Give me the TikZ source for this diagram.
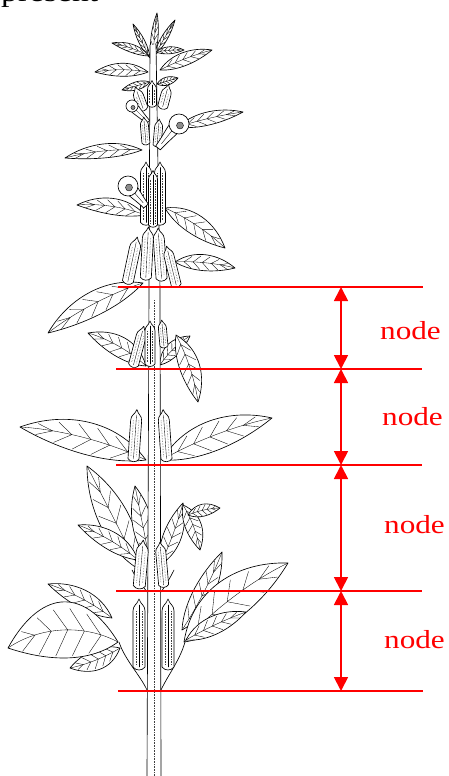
\documentclass[tikz,border=0pt]{standalone}
\usepackage{graphicx}
\usepackage{fontspec}
\setmainfont{Liberation Serif}
\usetikzlibrary{arrows.meta,calc}
\definecolor{annot}{RGB}{255,0,0}
\tikzset{
  plantline/.style={draw=black,line width=0.65pt,line join=round,line cap=round},
  vein/.style={draw=black,line width=0.35pt,line cap=round},
  stip/.style={draw=black!75,line width=0.8pt,dash pattern=on 0.3pt off 1.3pt},
  redline/.style={draw=annot,line width=1.6pt},
  redarrow/.style={draw=annot,line width=1.8pt,{Triangle[length=14pt,width=14pt]}-{Triangle[length=14pt,width=14pt]}},
  lbl/.style={text=annot,font=\fontsize{26}{30}\selectfont,anchor=base,inner sep=0pt},
}
% leaf: base x, base y, tip x, tip y, width, bend
\newcommand\leaf[6]{%
  \pgfmathsetmacro\lfA{atan2(-(#4-#2),#3-#1)}%
  \pgfmathsetmacro\lfL{veclen(#3-#1,#4-#2)}%
  \pgfmathsetmacro\lfH{#5/1.35}%
  \pgfmathsetmacro\lfB{#6}%
  \begin{scope}[shift={(#1,#2)},rotate=\lfA,x=1pt,y=1pt]
    \draw[plantline,fill=white] (0,0) .. controls (0.3*\lfL,\lfH+\lfB) and (0.7*\lfL,0.8*\lfH+\lfB) .. (\lfL,0)
      .. controls (0.7*\lfL,-0.8*\lfH+\lfB) and (0.3*\lfL,-\lfH+\lfB) .. cycle;
    \draw[vein] (0,0) .. controls (0.3*\lfL,\lfB) and (0.7*\lfL,\lfB) .. (\lfL,0);
    \foreach \t in {0.15,0.3,0.45,0.6,0.75}{
      \pgfmathsetmacro\ym{3*\t*(1-\t)*\lfB}
      \pgfmathsetmacro\tq{\t+0.12}
      \pgfmathsetmacro\yt{0.85*(3*\tq*(1-\tq)^2*(\lfH+\lfB)+3*\tq^2*(1-\tq)*(0.8*\lfH+\lfB))}
      \pgfmathsetmacro\yb{0.85*(3*\tq*(1-\tq)^2*(-\lfH+\lfB)+3*\tq^2*(1-\tq)*(-0.8*\lfH+\lfB))}
      \draw[vein] (\t*\lfL,\ym) -- (\tq*\lfL,\yt);
      \draw[vein] (\t*\lfL,\ym) -- (\tq*\lfL,\yb);
    }
  \end{scope}}
% tube (flower corolla): base x, base y, tip x, tip y, width
\newcommand\tube[5]{%
  \pgfmathsetmacro\lfA{atan2(-(#4-#2),#3-#1)}%
  \pgfmathsetmacro\lfL{veclen(#3-#1,#4-#2)}%
  \begin{scope}[shift={(#1,#2)},rotate=\lfA,x=1pt,y=1pt]
    \draw[plantline,fill=white] (0,-#5/4) -- (0,#5/4) .. controls (0.5*\lfL,#5/3) and (0.8*\lfL,#5/2) .. (\lfL,#5/2)
      -- (\lfL,-#5/2) .. controls (0.8*\lfL,-#5/2) and (0.5*\lfL,-#5/3) .. cycle;
    \draw[vein] (0.2*\lfL,0) -- (0.9*\lfL,0);
  \end{scope}}
% capsule: centre x, centre y, angle, length, width
\newcommand\capsule[5]{%
  \begin{scope}[shift={(#1,#2)},rotate=#3]
    \draw[plantline,fill=white] (-#5/2,#4/2) -- (-#5/2,-#4/2+#5/2) .. controls (-#5/2,-#4/2) and (-#5/6,-#4/2) .. (0,-#4/2-#5/2)
      .. controls (#5/6,-#4/2) and (#5/2,-#4/2) .. (#5/2,-#4/2+#5/2) -- (#5/2,#4/2)
      .. controls (#5/4,#4/2+#5/3) and (-#5/4,#4/2+#5/3) .. cycle;
    \draw[stip] (-#5/4,-#4/2+#5/2) -- (-#5/4,#4/2-#5/4);
    \draw[stip] (#5/4,-#4/2+#5/2) -- (#5/4,#4/2-#5/4);
    \draw[vein] (0,-#4/2) -- (0,#4/2);
  \end{scope}}
% flower face: x, y, radius
\newcommand\face[3]{%
  \draw[plantline,fill=white] (#1,#2) circle (#3);
  \draw[vein,fill=black!45] ($(#1,#2)+(1,1.5)$) circle ({#3*0.35});}
\begin{document}
\begin{tikzpicture}[x=1pt,y=-1pt]
\useasboundingbox (0,0) rectangle (449,776);
% cut-off text at the top edge (only its lowest part shows, as in the reference)
\node[anchor=base west,inner sep=0pt,font=\fontsize{28}{30}\selectfont] (toptext) at (1,1.5) {\scalebox{1.2}[1]{present}};

% ---------- leaves (behind) ----------
% top cluster
\leaf{152}{62}{157}{13}{7}{0}
\leaf{154}{56}{175}{20}{6}{0}
\leaf{150}{58}{133}{24}{6}{0}
\leaf{149}{56}{112}{43}{8}{-2}
\leaf{156}{52}{184}{50}{7}{1}
\leaf{148}{72}{95}{72}{13}{-3}
\leaf{160}{70}{212}{50}{13}{2}
\leaf{150}{82}{122}{90}{8}{0}
\leaf{157}{84}{178}{78}{8}{0}
% upper flowers zone
\leaf{178}{127}{243}{112}{13}{2}
\leaf{142}{150}{65}{158}{14}{-4}
\leaf{145}{215}{77}{205}{16}{-5}
\leaf{165}{208}{225}{248}{20}{4}
\leaf{175}{262}{235}{268}{16}{3}
\leaf{143}{283}{48}{333}{24}{-6}
% node 369
\leaf{146}{366}{88}{333}{20}{-5}
\leaf{160}{365}{190}{336}{14}{3}
\leaf{176}{335}{198}{402}{20}{4}
% node 465
\leaf{146}{460}{20}{427}{32}{-8}
\leaf{162}{460}{272}{418}{30}{6}
% node 591
\leaf{140}{570}{87}{466}{30}{0}
\leaf{138}{560}{78}{525}{18}{-4}
\leaf{150}{562}{135}{486}{20}{0}
\leaf{160}{565}{183}{503}{18}{-2}
\leaf{183}{505}{200}{550}{16}{3}
\leaf{188}{515}{220}{508}{12}{2}
% node 691
\leaf{112}{618}{48}{584}{18}{-4}
\leaf{120}{648}{70}{668}{20}{3}
\leaf{118}{642}{8}{648}{56}{-20}
\leaf{182}{630}{222}{552}{20}{-3}
\leaf{184}{642}{288}{563}{40}{8}
\leaf{186}{640}{246}{612}{18}{2}

% ---------- stem ----------
\fill[white] (150,45) -- (149,290) -- (147,777) -- (161,777) -- (160,290) -- (156,45) -- cycle;
\draw[plantline] (150,45) -- (149,290) -- (147,777);
\draw[plantline] (156,45) -- (160,290) -- (161,777);
\draw[stip] (154,300) -- (154,776);
% sheaths at the nodes
\draw[plantline] (147,690) .. controls (140,675) and (125,660) .. (119,642);
\draw[plantline] (161,690) .. controls (168,675) and (180,660) .. (185,642);
\draw[plantline] (147,592) .. controls (142,585) and (136,578) .. (132,570);
\draw[plantline] (161,592) .. controls (166,585) and (170,578) .. (174,570);

% ---------- buds, capsules, flowers ----------
\capsule{140}{100}{20}{18}{10}
\capsule{165}{98}{-15}{18}{10}
\capsule{152}{95}{0}{20}{9}
\tube{148}{122}{134}{108}{9}
\face{132}{106}{6}
\capsule{145}{132}{5}{22}{8}
\capsule{158}{134}{-5}{22}{8}
\tube{158}{148}{175}{127}{12}
\face{179}{124}{10}
\capsule{146}{195}{0}{55}{11}
\capsule{160}{195}{0}{55}{11}
\capsule{153}{200}{0}{50}{9}
\tube{146}{206}{132}{190}{12}
\face{128}{186}{10}
\capsule{132}{262}{-12}{40}{11}
\capsule{147}{255}{-3}{45}{11}
\capsule{160}{256}{4}{45}{11}
\capsule{172}{268}{14}{35}{10}
\capsule{138}{348}{-15}{35}{10}
\capsule{150}{345}{0}{38}{10}
\capsule{163}{335}{5}{22}{8}
\capsule{135}{437}{-4}{44}{11}
\capsule{165}{437}{4}{44}{11}
\capsule{141}{566}{-5}{40}{12}
\capsule{162}{566}{5}{38}{10}
\capsule{139}{636}{0}{62}{12}
\capsule{168}{636}{0}{62}{12}

% ---------- red annotations ----------
\coordinate (h1l) at (118,287); \coordinate (h1r) at (423,287);
\coordinate (h2l) at (116,369); \coordinate (h2r) at (422,369);
\coordinate (h3l) at (116,465); \coordinate (h3r) at (422,465);
\coordinate (h4l) at (116,591); \coordinate (h4r) at (422,591);
\coordinate (h5l) at (118,691); \coordinate (h5r) at (423,691);
\foreach \i in {1,...,5} \draw[redline] (h\i l) -- (h\i r);
\coordinate (a1) at (341,287);
\coordinate (a2) at (341,369);
\coordinate (a3) at (341,465);
\coordinate (a4) at (341,591);
\coordinate (a5) at (341,691);
\draw[redarrow] (a1) -- (a2);
\draw[redarrow] (a2) -- (a3);
\draw[redarrow] (a3) -- (a4);
\draw[redarrow] (a4) -- (a5);
\node[lbl] (lab1) at (410.5,339) {\scalebox{1.2}[1]{node}};
\node[lbl] (lab2) at (412.5,425) {\scalebox{1.2}[1]{node}};
\node[lbl] (lab3) at (414.5,533) {\scalebox{1.2}[1]{node}};
\node[lbl] (lab4) at (414.5,648) {\scalebox{1.2}[1]{node}};
\end{tikzpicture}
\end{document}
